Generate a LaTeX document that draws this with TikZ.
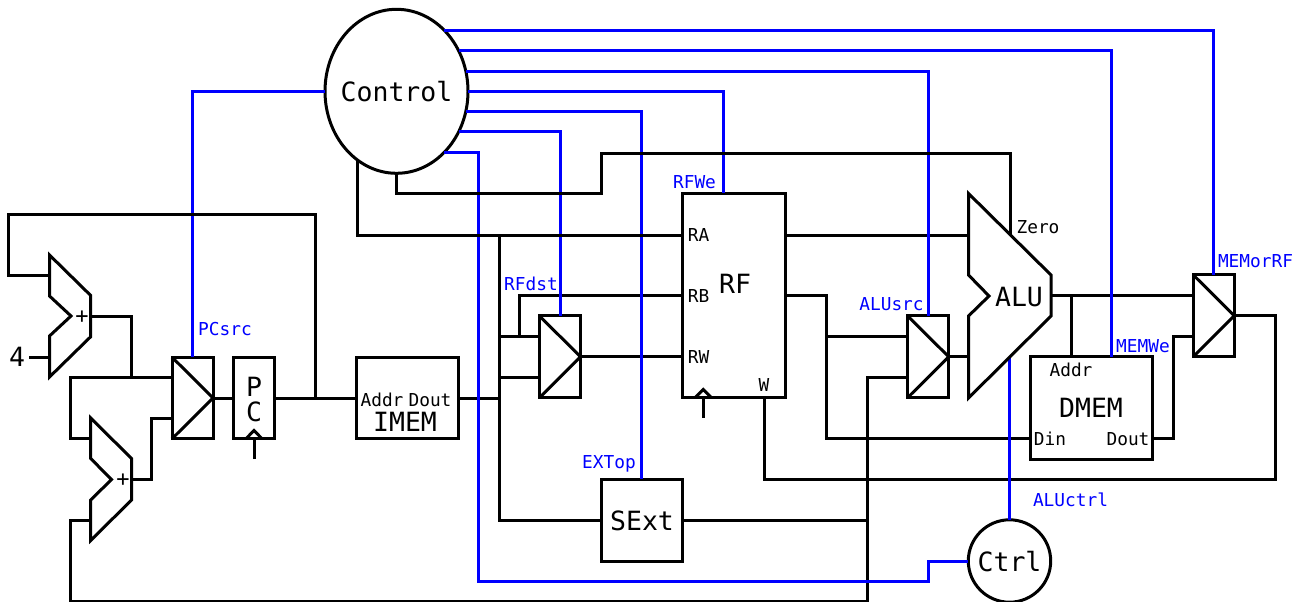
\documentclass[tikz,border=0pt]{standalone}
\usepackage{fontspec}
\setmainfont{DejaVu Sans Mono}
\usetikzlibrary{shapes.geometric}
\newcommand{\bigfont}{\fontsize{26.5}{30}\selectfont}
\newcommand{\smallfont}{\fontsize{17.8}{20}\selectfont}
\newcommand{\plusfont}{\fontsize{22}{24}\selectfont}
\tikzset{
  wire/.style={draw=black,line width=3pt},
  bwire/.style={draw=blue,line width=3pt},
  boxn/.style={draw=black,line width=3pt,inner sep=0pt,outer sep=0pt},
  muxbox/.style={boxn,minimum width=41pt,minimum height=81.7pt},
  oval/.style={ellipse,boxn},
  big/.style={inner sep=0pt,anchor=base,font=\bigfont,text=black},
  small/.style={inner sep=0pt,anchor=base,font=\smallfont,text=black},
  plus/.style={inner sep=0pt,anchor=base,font=\plusfont,text=black},
  blab/.style={inner sep=0pt,anchor=base,font=\smallfont,text=blue},
  shapeline/.style={draw=black,line width=3pt}
}
\begin{document}
\begin{tikzpicture}[x=1pt,y=-1pt]
\path[use as bounding box,fill=white] (0,0) rectangle (1304,602);

% boxes
\node[oval,minimum width=143pt,minimum height=164pt] (ctrl) at (396.5,91.3) {};
\node[oval,minimum width=82.4pt,minimum height=82.4pt] (cir) at (1009.5,561) {};
\node[muxbox] (m1) at (192.5,398) {};
\node[muxbox] (m2) at (560,356.8) {};
\node[muxbox] (m3) at (928.2,356.8) {};
\node[muxbox] (m4) at (1213.8,315.8) {};
\node[muxbox] (pc) at (254,398) {};
\node[boxn,minimum width=102.5pt,minimum height=81.7pt] (imem) at (407.25,398) {};
\node[boxn,minimum width=102.3pt,minimum height=204.4pt] (rf) at (733.85,295.5) {};
\node[boxn,minimum width=81.7pt,minimum height=81.7pt] (sext) at (641.85,520.15) {};
\node[boxn,minimum width=122.7pt,minimum height=102.3pt] (dmem) at (1091.35,407.85) {};

% ports and junctions
\coordinate (a1t) at (49.5,275);
\coordinate (a1b) at (49.5,357);
\coordinate (a1o) at (90.7,316);
\coordinate (a2t) at (90.7,438.7);
\coordinate (a2b) at (90.7,520);
\coordinate (a2o) at (131.5,479.5);
\coordinate (four) at (29,357);
\coordinate (m1a) at (172,377.5);
\coordinate (m1b) at (172,418);
\coordinate (m2a) at (539.5,336.7);
\coordinate (m2b) at (539.5,377.3);
\coordinate (m3a) at (907.7,336.5);
\coordinate (m3b) at (907.7,377.3);
\coordinate (m4a) at (1193.3,295.8);
\coordinate (m4b) at (1193.3,336);
\coordinate (ra) at (682.7,235);
\coordinate (rb) at (682.7,295.8);
\coordinate (rw) at (682.7,356.8);
\coordinate (rfA) at (785,235);
\coordinate (rfB) at (785,295.8);
\coordinate (rfW) at (764.4,397.7);
\coordinate (rfWe) at (723,193.3);
\coordinate (aluA) at (968.5,235);
\coordinate (aluB) at (968.5,356.8);
\coordinate (aluO) at (1051,295.8);
\coordinate (aluZ) at (1010,235);
\coordinate (aluC) at (1009.5,357);
\coordinate (din) at (1030,438.7);
\coordinate (dout) at (1152.7,438.7);
\coordinate (daddr) at (1071,356.7);
\coordinate (dwe) at (1111.7,356.7);
\coordinate (busA) at (499,235);
\coordinate (jbot) at (867,520.15);
\coordinate (jrb) at (826,336.5);
\coordinate (jm2) at (519.4,336.7);
\coordinate (jadd) at (131.5,377.5);
\coordinate (jloop) at (315,398);
\coordinate (jaout) at (1071,295.8);
\coordinate (pcclk) at (254,459);
\coordinate (pcclkt) at (254,438.7);
\coordinate (rfclk) at (703.3,417.7);
\coordinate (rfclkt) at (703.3,397.7);

% black wires below the control lines
\draw[wire] (four) -- (a1b);
\draw[wire] (a1o) -- (131.5,316) -- (jadd);
\draw[wire] (m1a) -- (70,377.5) -- (70,438.7) -- (a2t);
\draw[wire] (a2o) -- (151,479.5) -- (151,418) -- (m1b);
\draw[wire] (a2b) -- (70,520) -- (70,601) -- (867,601) -- (867,377.3) -- (m3b);
\draw[wire] (m1.east) -- (pc.west);
\draw[wire] (pc.east) -- (imem.west);
\draw[wire] (imem.east) -- (499,398);
\draw[wire] (busA) -- (499,520.15) -- (sext.west);
\draw[wire] (499,336.7) -- (m2a);
\draw[wire] (499,377.3) -- (m2b);
\draw[wire] (jm2) -- (519.4,295.8) -- (rb);
\draw[wire] (m2.east) -- (rw);
\draw[wire] (sext.east) -- (jbot);
\draw[wire] (rfA) -- (aluA);
\draw[wire] (rfB) -- (826,295.8) -- (826,438.7) -- (din);
\draw[wire] (jrb) -- (m3a);
\draw[wire] (m3.east) -- (aluB);
\draw[wire] (aluO) -- (m4a);
\draw[wire] (jaout) -- (daddr);
\draw[wire] (dout) -- (1173.3,438.7) -- (1173.3,336) -- (m4b);
\draw[wire] (m4.east) -- (1275,315.8) -- (1275,479.6) -- (764.4,479.6) -- (rfW);
\draw[wire] (pcclk) -- (pcclkt);
\draw[wire] (rfclk) -- (rfclkt);

% control lines
\draw[bwire] (ctrl.west) -| (m1.north);
\draw[bwire] (ctrl.52.2) -| (m4.north);
\draw[bwire] (ctrl.33.75) -| (dwe);
\draw[bwire] (ctrl.16.3) -| (m3.north);
\draw[bwire] (ctrl.east) -| (rfWe);
\draw[bwire] (ctrl.-16.6) -| (sext.north);
\draw[bwire] (ctrl.-33.2) -| (m2.north);
\draw[bwire] (ctrl.-52.8) -| (478.8,581.5) -- (928,581.5) -- (928,561) -- (cir.west);
\draw[bwire] (aluC) -- (cir.north);

% black wires above the control lines
\draw[wire] (a1t) -- (8,275) -- (8,214) -- (315,214) -- (jloop);
\draw[wire] (ctrl.240.3) |- (ra);
\draw[wire] (ctrl.south) -- (396.5,193.3) -- (601,193.3) -- (601,153) -- (1010,153) -- (aluZ);

% adders and ALU
\draw[shapeline] (49.5,255) -- (90.7,295.5) -- (90.7,336.7) -- (49.5,377) -- (49.5,336) -- (71,316) -- (49.5,296) -- cycle;
\draw[shapeline] (90.7,418) -- (131.5,458.5) -- (131.5,500) -- (90.7,540.5) -- (90.7,500) -- (111.5,479.5) -- (90.7,458.5) -- cycle;
\draw[shapeline] (968.5,193.5) -- (1051,275) -- (1051,316) -- (968.5,398) -- (968.5,316) -- (989,296) -- (968.5,275) -- cycle;

% mux diagonals
\draw[shapeline] (m1.north west) -- (m1.east) -- (m1.south west);
\draw[shapeline] (m2.north west) -- (m2.east) -- (m2.south west);
\draw[shapeline] (m3.north west) -- (m3.east) -- (m3.south west);
\draw[shapeline] (m4.north west) -- (m4.east) -- (m4.south west);

% clock chevrons
\draw[shapeline] (246,438.7) -- (254,430.5) -- (262,438.7);
\draw[shapeline] (695,397.7) -- (703.3,389.5) -- (711.5,397.7);

% big labels
\node[big] (tControl) at (396.5,102) {Control};
\node[big] (tCtrl) at (1009.5,571.7) {Ctrl};
\node[big] (tSExt) at (642,530) {SExt};
\node[big] (tRF) at (735,293.3) {RF};
\node[big] (tALU) at (1019,306) {ALU};
\node[big] (tDMEM) at (1091,417.7) {DMEM};
\node[big] (tIMEM) at (405,431.7) {IMEM};
\node[big] (tP) at (254,396.7) {P};
\node[big] (tC) at (254,421.7) {C};
\node[big] (t4) at (17,366.7) {4};

% small labels
\node[small] (tA) at (382,406) {Addr};
\node[small] (tD) at (430,406) {Dout};
\node[small] (tRA) at (698.5,241) {RA};
\node[small] (tRB) at (698.5,302) {RB};
\node[small] (tRW) at (698.5,363.3) {RW};
\node[small] (tW) at (764,391.7) {W};
\node[small] (tZero) at (1038,233.3) {Zero};
\node[small] (tAddr) at (1071,376) {Addr};
\node[small] (tDin) at (1050,445.7) {Din};
\node[small] (tDout) at (1128,445.7) {Dout};
\node[plus] (tp1) at (82,323) {+};
\node[plus] (tp2) at (123,486) {+};

% control labels
\node[blab] (lPC) at (225,335) {PCsrc};
\node[blab] (lWe) at (694.5,188.3) {RFWe};
\node[blab] (lDst) at (531,290.7) {RFdst};
\node[blab] (lExt) at (609,468.3) {EXTop};
\node[blab] (lSrc) at (891.5,310.7) {ALUsrc};
\node[blab] (lMW) at (1143,352.7) {MEMWe};
\node[blab] (lMR) at (1255.5,267.3) {MEMorRF};
\node[blab] (lAC) at (1070.5,506.7) {ALUctrl};
\end{tikzpicture}
\end{document}
